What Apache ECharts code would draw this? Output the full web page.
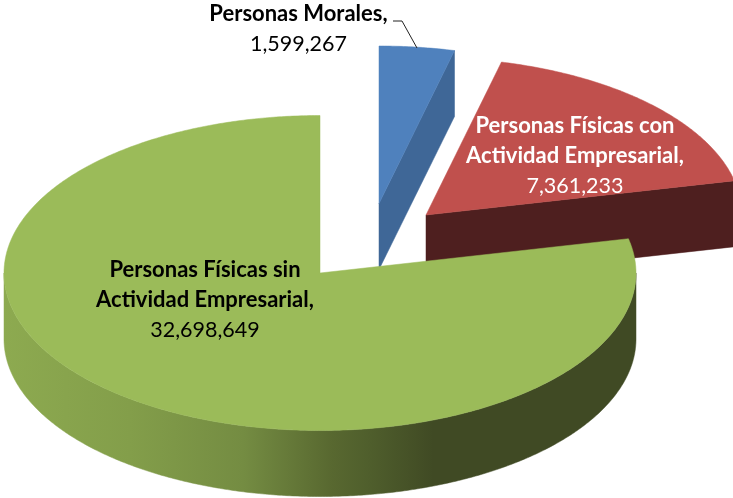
<!DOCTYPE html>
<html>
<head>
<meta charset="utf-8">
<style>html,body{margin:0;padding:0;background:#fff}#c{width:733px;height:498px}</style>
<script src="https://cdn.jsdelivr.net/npm/echarts@6/dist/echarts.min.js"></script>
</head>
<body>
<div id="c"></div>
<script>
// Data
var categories = ['Personas Morales,', 'Personas Físicas con\nActividad Empresarial,', 'Personas Físicas sin\nActividad Empresarial,'];
var values = [1599267, 7361233, 32698649];

// Layout and style
var RX = 316, RY = 157.5, DEPTH = 66;
var centers = [[379, 203.5], [426, 215], [320, 273]];
var topColors = ['#4F81BD', '#C0504D', '#9BBB59'];
var cutColors = ['#3F6797', '#4E1F1F', '#404A24'];
var labelPos = [[298.5, 29], [575, 156], [205, 300]];
var labelColors = ['#000', '#fff', '#000'];
var wallGradient = {
  type: 'linear', x: 3, y: 0, x2: 636, y2: 0, global: true,
  colorStops: [
    { offset: 0, color: '#8DAA50' },
    { offset: 0.2, color: '#839E4A' },
    { offset: 0.38, color: '#748C42' },
    { offset: 0.52, color: '#586830' },
    { offset: 0.58, color: '#4F5E2C' },
    { offset: 0.68, color: '#404A24' },
    { offset: 1, color: '#404A24' }
  ]
};
var leader = [[393, 21], [402, 21], [417, 48]];

var total = values.reduce(function (a, b) { return a + b; }, 0);
function pt(c, deg, dy) {
  var t = deg * Math.PI / 180;
  return [c[0] + RX * Math.sin(t), c[1] - RY * Math.cos(t) + (dy || 0)];
}
function rim(c, a0, a1, dy) {
  var out = [], n = Math.max(2, Math.ceil(Math.abs(a1 - a0) * 2));
  for (var i = 0; i <= n; i++) out.push(pt(c, a0 + (a1 - a0) * i / n, dy));
  return out;
}
function poly(points, fill) {
  return { type: 'polygon', shape: { points: points }, style: { fill: fill, stroke: fill, lineWidth: 0.5 } };
}

function renderItem(params, api) {
  var i = params.dataIndex, c = centers[i], kids = [];
  var before = 0;
  for (var k = 0; k < i; k++) before += values[k];
  var a0 = before / total * 360, a1 = (before + api.value(0)) / total * 360;

  // Cut face at the end edge (faces the viewer for the small slices)
  if (a1 < 180) {
    var e = pt(c, a1), eb = pt(c, a1, DEPTH);
    kids.push(poly([c, e, eb, [c[0], c[1] + DEPTH]], cutColors[i]));
  }
  // Outer wall, only where the rim faces the viewer
  var w0 = Math.max(a0, 90), w1 = Math.min(a1, 270);
  if (w1 > w0) {
    var wall = rim(c, w0, w1, 0).concat(rim(c, w1, w0, DEPTH));
    kids.push(poly(wall, wallGradient));
  }
  // Top face
  kids.push(poly([c].concat(rim(c, a0, a1, 0)), topColors[i]));
  // Label
  kids.push({
    type: 'text',
    style: {
      x: labelPos[i][0], y: labelPos[i][1],
      align: 'center', verticalAlign: 'middle',
      text: '{b|' + categories[i].split('\n').join('}\n{b|') + '}\n{v|' + values[i].toLocaleString('en-US') + '}',
      rich: {
        b: { fontFamily: 'Lato', fontWeight: 'bold', fontSize: 22, lineHeight: 30, fill: labelColors[i], align: 'center' },
        v: { fontFamily: 'Lato', fontSize: 21.5, lineHeight: 30, fill: labelColors[i], align: 'center' }
      }
    }
  });
  if (i === 0) {
    kids.push({ type: 'polyline', shape: { points: leader }, style: { fill: null, stroke: '#222', lineWidth: 1 } });
  }
  return { type: 'group', children: kids };
}

var chart = echarts.init(document.getElementById('c'), null, { renderer: 'canvas' });
chart.setOption({
  animation: false,
  backgroundColor: '#fff',
  series: [{
    type: 'custom',
    coordinateSystem: 'none',
    silent: true,
    clip: false,
    renderItem: renderItem,
    data: values.map(function (v, i) { return { name: categories[i], value: [v] }; })
  }]
});
</script>
</body>
</html>
